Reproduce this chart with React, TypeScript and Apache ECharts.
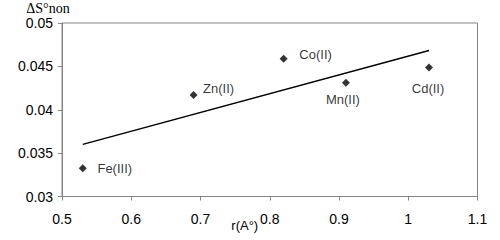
import React, { useEffect, useRef } from "react";
import * as echarts from "echarts";

const ions = ["Fe(III)", "Zn(II)", "Co(II)", "Mn(II)", "Cd(II)"];
const radius = [0.53, 0.69, 0.82, 0.91, 1.03];
const entropy = [0.03325, 0.0417, 0.04588, 0.04311, 0.04488];
const labelOffsets = [
  [32, 0],
  [25, -7],
  [32, -4],
  [-3, 17],
  [-1, 21],
];
const trendX = [0.53, 1.03];
const trendY = [0.03601, 0.04683];

export default function App() {
  const ref = useRef<HTMLDivElement>(null);
  useEffect(() => {
    document.body.style.margin = "0";
    const chart = echarts.init(ref.current!, null, { renderer: "svg" });
    const axisColor = "#868686";
    const sans = "'Liberation Sans', Arial, sans-serif";
    chart.setOption({
      animation: false,
      grid: {
        left: 62,
        right: 22.5,
        top: 23,
        bottom: 43.5,
        show: true,
        borderColor: axisColor,
        borderWidth: 1,
        containLabel: false,
        outerBoundsMode: "none",
      },
      xAxis: {
        type: "value",
        min: 0.5,
        max: 1.1,
        interval: 0.1,
        name: "r(A°)",
        nameLocation: "middle",
        nameGap: 22,
        nameMoveOverlap: false,
        nameTextStyle: { fontFamily: sans, fontSize: 13, color: "#000", padding: [0, 50, 0, 0] },
        axisLine: { lineStyle: { color: axisColor } },
        axisTick: { show: true, length: 4, lineStyle: { color: axisColor } },
        axisLabel: {
          fontFamily: sans,
          fontSize: 14,
          color: "#000",
          margin: 15,
          formatter: (v: number) => String(Math.round(v * 10) / 10),
        },
        splitLine: { show: false },
      },
      yAxis: {
        type: "value",
        min: 0.03,
        max: 0.05,
        interval: 0.005,
        name: "ΔS°non",
        nameLocation: "end",
        nameGap: 8,
        nameMoveOverlap: false,
        nameTextStyle: {
          fontFamily: "'Liberation Serif', 'Times New Roman', serif",
          fontSize: 14,
          color: "#000",
          align: "center",
          padding: [0, 28, 0, 0],
        },
        axisLine: { show: true, lineStyle: { color: axisColor } },
        axisTick: { show: true, length: 4, lineStyle: { color: axisColor } },
        axisLabel: {
          fontFamily: sans,
          fontSize: 14,
          color: "#000",
          margin: 9,
          formatter: (v: number) => String(Math.round(v * 1000) / 1000),
        },
        splitLine: { show: false },
      },
      series: [
        {
          type: "line",
          data: trendX.map((x, i) => [x, trendY[i]]),
          showSymbol: false,
          symbol: "none",
          lineStyle: { color: "#000", width: 1.5 },
          silent: true,
        },
        {
          type: "scatter",
          symbol: "diamond",
          symbolSize: 8,
          itemStyle: { color: "#000" },
          data: radius.map((x, i) => ({
            value: [x, entropy[i]],
            name: ions[i],
            label: {
              show: true,
              position: "inside",
              offset: labelOffsets[i],
              formatter: ions[i],
              fontFamily: sans,
              fontSize: 13,
              color: "#000",
            },
          })),
        },
      ],
    });
    return () => chart.dispose();
  }, []);
  return <div ref={ref} style={{ width: 500, height: 240 }} />;
}
